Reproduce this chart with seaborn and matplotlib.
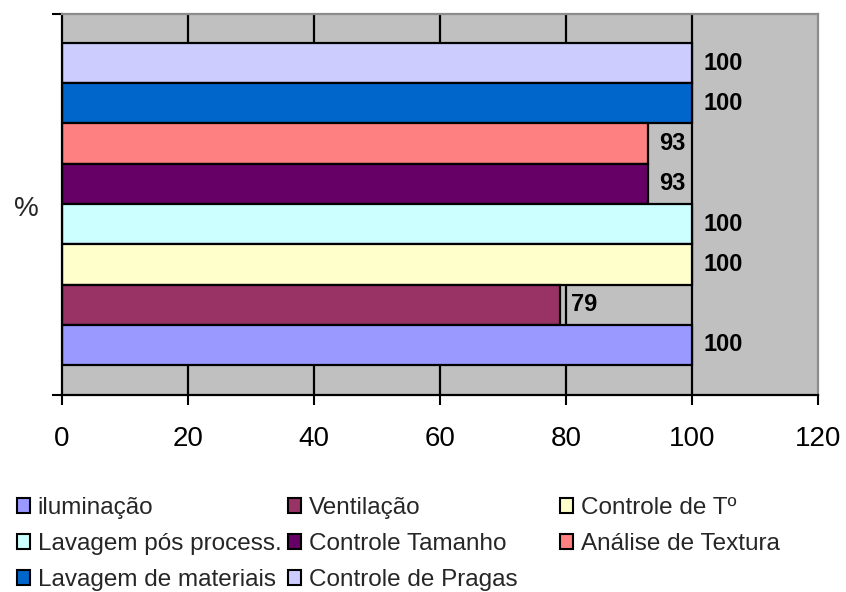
import matplotlib
matplotlib.use("Agg")
import matplotlib.pyplot as plt
from matplotlib.patches import Patch
import seaborn as sns
import pandas as pd

# Items, listed from the top bar down
items = [
    "Controle de Pragas",
    "Lavagem de materiais",
    "Análise de Textura",
    "Controle Tamanho",
    "Lavagem pós process.",
    "Controle de Tº",
    "Ventilação",
    "iluminação",
]
values = [100, 100, 93, 93, 100, 100, 79, 100]
colors = ["#CCCCFF", "#0066CC", "#FF8080", "#660066",
          "#CCFFFF", "#FFFFCC", "#993366", "#9999FF"]
x_ticks = [0, 20, 40, 60, 80, 100, 120]

# Legend rows as they read left to right
legend_rows = [
    ["iluminação", "Ventilação", "Controle de Tº"],
    ["Lavagem pós process.", "Controle Tamanho", "Análise de Textura"],
    ["Lavagem de materiais", "Controle de Pragas"],
]

sns.set_theme(style="white")
plt.rcParams["font.family"] = ["Liberation Sans", "DejaVu Sans"]

df = pd.DataFrame({"item": items, "valor": values})
palette = dict(zip(items, colors))

W, H = 846, 592
fig = plt.figure(figsize=(W / 100, H / 100), dpi=100)
ax = fig.add_axes([62 / W, 1 - 395 / H, 756 / W, 381 / H])
ax.set_facecolor("#C0C0C0")

sns.barplot(data=df, x="valor", y="item", hue="item", palette=palette,
            order=items, hue_order=items, orient="h", width=1.0,
            edgecolor="black", linewidth=1.6, legend=False, ax=ax,
            saturation=1)

for cont in ax.containers:
    ax.bar_label(cont, fmt="%d", padding=8, fontsize=17, fontweight="bold",
                 color="black")

ax.set_xlim(0, 120)
ax.set_ylim(7.5 + 0.745, -0.5 - 0.72)
ax.set_xticks(x_ticks)
ax.set_xticklabels([str(t) for t in x_ticks], fontsize=20)
ax.set_yticks([7.5 + 0.745, -0.5 - 0.72])
ax.set_yticklabels(["", ""])
ax.set_xlabel("")
ax.set_ylabel("%", rotation=0, fontsize=20, va="center", ha="center")
ax.yaxis.set_label_coords(-36 / 756, 0.5 - 5 / 381)

ax.set_axisbelow(True)
ax.grid(axis="x", color="black", linewidth=1.6)
ax.grid(axis="y", visible=False)
gl = ax.xaxis.get_gridlines()
gl[0].set_visible(False)
gl[-1].set_visible(False)

ax.tick_params(axis="x", direction="out", length=7.5, width=1.5,
               colors="black", pad=15, bottom=True)
ax.tick_params(axis="y", direction="out", length=7.5, width=1.5,
               colors="black", left=True)

for side in ("left", "bottom"):
    ax.spines[side].set_color("black")
    ax.spines[side].set_linewidth(1.6)
for side in ("top", "right"):
    ax.spines[side].set_color("#8C8C8C")
    ax.spines[side].set_linewidth(1.6)
    ax.spines[side].set_visible(True)

# Legend: three equal-width columns under the plot
col_x = [17, 288, 560]
for ci, x0 in enumerate(col_x):
    labels = [row[ci] for row in legend_rows if ci < len(row)]
    handles = [Patch(facecolor=palette[l], edgecolor="black", linewidth=1.5)
               for l in labels]
    fig.legend(handles, labels, loc="upper left",
               bbox_to_anchor=(x0 / W, 1 - 497 / H),
               frameon=False, fontsize=17.5, handlelength=0.55,
               handleheight=0.55, handletextpad=0.3, labelspacing=0.58,
               borderpad=0, borderaxespad=0)

fig.savefig("out.png", dpi=100, facecolor="white")
